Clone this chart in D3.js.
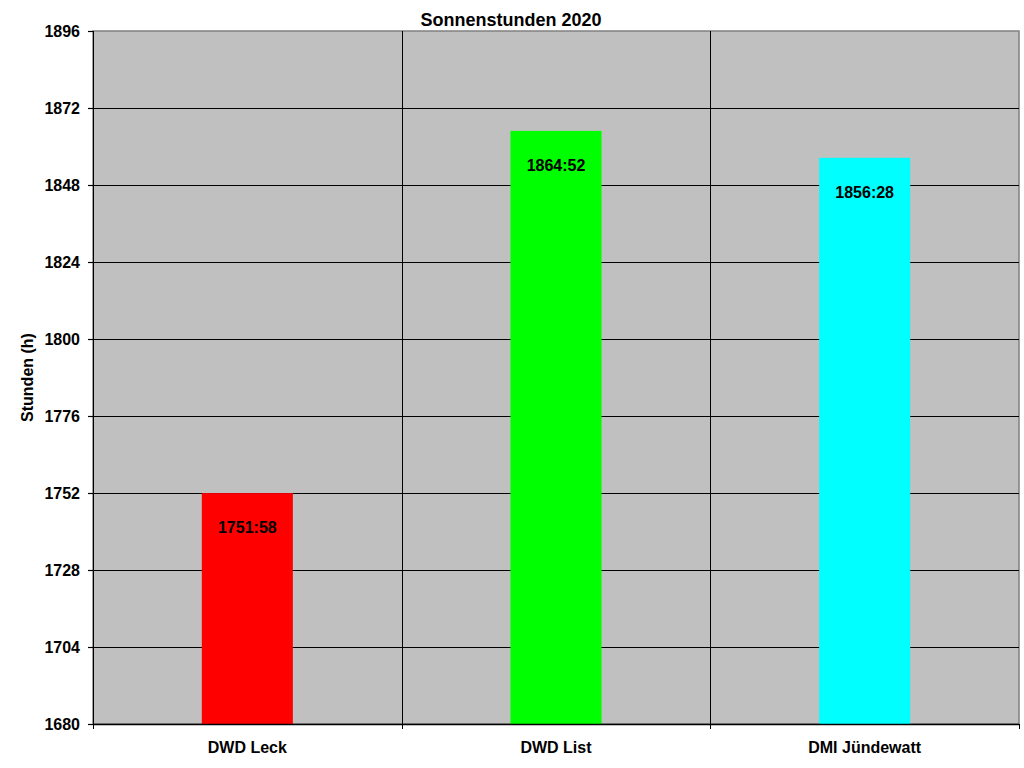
<!DOCTYPE html>
<html>
<head>
<meta charset="utf-8">
<script src="https://cdn.jsdelivr.net/npm/d3@7"></script>
<style>
  body { margin: 0; background: #fff; }
  svg { display: block; font-family: Arial, "Liberation Sans", sans-serif; font-weight: bold; }
</style>
</head>
<body>
<svg></svg>
<script>
// stations and sunshine hours 2020 (h:mm)
const stations = ["DWD Leck", "DWD List", "DMI Jündewatt"];
const hoursLabel = ["1751:58", "1864:52", "1856:28"];
const colors = ["#ff0000", "#00ff00", "#00ffff"];
const yTicks = [1680, 1704, 1728, 1752, 1776, 1800, 1824, 1848, 1872, 1896];

// "1751:58" -> 1751.97
const toHours = (s) => {
  const p = s.split(":");
  return +p[0] + +p[1] / 60;
};

const data = stations.map((name, i) => ({
  name: name,
  label: hoursLabel[i],
  value: toHours(hoursLabel[i]),
  color: colors[i],
}));

const svgWidth = 1024,
  svgHeight = 768;
const margin = { top: 31, right: 5, bottom: 44, left: 93 };
const width = svgWidth - margin.left - margin.right;
const height = svgHeight - margin.top - margin.bottom;

const svg = d3.select("svg").attr("width", svgWidth).attr("height", svgHeight);

svg.append("text")
  .attr("x", 511)
  .attr("y", 26)
  .attr("text-anchor", "middle")
  .attr("font-size", "18px")
  .text("Sonnenstunden 2020");

const g = svg.append("g")
  .attr("transform", "translate(" + margin.left + "," + margin.top + ")");

const x = d3.scaleBand().domain(stations).range([0, width]).paddingInner(0).paddingOuter(0);
const y = d3.scaleLinear().domain([1680, 1896]).range([height, 0]);

// plot background
g.append("rect")
  .attr("width", width)
  .attr("height", height)
  .attr("fill", "#c0c0c0")
  .attr("stroke", "#808080")
  .attr("stroke-width", 1.5);

// horizontal gridlines
g.append("g")
  .selectAll("line")
  .data(yTicks.slice(1, -1))
  .join("line")
  .attr("x1", 0)
  .attr("x2", width)
  .attr("y1", (d) => Math.round(y(d)) + 0.5)
  .attr("y2", (d) => Math.round(y(d)) + 0.5)
  .attr("stroke", "#000");

// vertical separators between categories
g.append("g")
  .selectAll("line")
  .data(stations.slice(1))
  .join("line")
  .attr("x1", (d) => Math.round(x(d)) + 0.5)
  .attr("x2", (d) => Math.round(x(d)) + 0.5)
  .attr("y1", 0)
  .attr("y2", height)
  .attr("stroke", "#000");

// bars
const barW = x.bandwidth() * 0.295;
g.append("g")
  .selectAll("rect")
  .data(data)
  .join("rect")
  .attr("x", (d) => x(d.name) + x.bandwidth() / 2 - barW / 2)
  .attr("y", (d) => y(d.value))
  .attr("width", barW)
  .attr("height", (d) => height - y(d.value))
  .attr("fill", (d) => d.color);

// value labels inside bars
g.append("g")
  .selectAll("text")
  .data(data)
  .join("text")
  .attr("x", (d) => x(d.name) + x.bandwidth() / 2)
  .attr("y", (d) => y(d.value) + 40)
  .attr("text-anchor", "middle")
  .attr("font-size", "16px")
  .text((d) => d.label);

// y axis
const yAxis = g.append("g")
  .call(d3.axisLeft(y).tickValues(yTicks).tickFormat(d3.format("d")).tickSize(5).tickPadding(8));
yAxis.selectAll("text").attr("font-size", "16px").attr("font-family", null).attr("dy", "0.35em");
yAxis.select(".domain").attr("d", "M0.5," + height + "V0");
yAxis.selectAll(".tick line").attr("stroke-width", 1.2);

// x axis, ticks at category boundaries
const xAxis = g.append("g").attr("transform", "translate(0," + height + ")");
xAxis.append("line")
  .attr("x1", 0)
  .attr("x2", width)
  .attr("y1", 0.5)
  .attr("y2", 0.5)
  .attr("stroke", "#000")
  .attr("stroke-width", 1.5);
xAxis.selectAll(".bt")
  .data(d3.range(stations.length + 1))
  .join("line")
  .attr("class", "bt")
  .attr("x1", (i) => Math.round(i * x.step()) + 0.5)
  .attr("x2", (i) => Math.round(i * x.step()) + 0.5)
  .attr("y1", 0)
  .attr("y2", 5)
  .attr("stroke", "#000");
xAxis.selectAll("text")
  .data(stations)
  .join("text")
  .attr("x", (d) => x(d) + x.bandwidth() / 2)
  .attr("y", 29)
  .attr("text-anchor", "middle")
  .attr("font-size", "16px")
  .text((d) => d);

// axis title
svg.append("text")
  .attr("transform", "translate(33," + (margin.top + height / 2) + ") rotate(-90)")
  .attr("text-anchor", "middle")
  .attr("font-size", "16px")
  .text("Stunden (h)");
</script>
</body>
</html>
